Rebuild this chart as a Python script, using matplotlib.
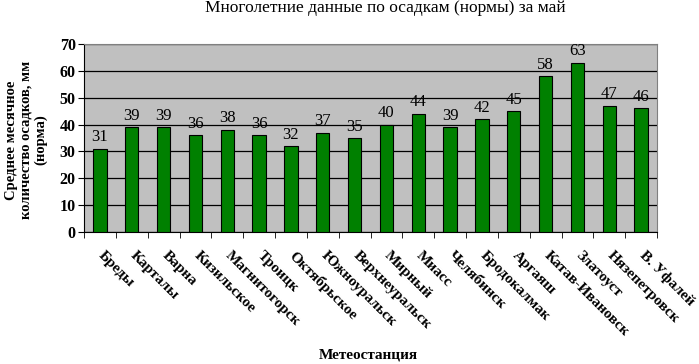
import matplotlib
matplotlib.use('Agg')
import matplotlib.pyplot as plt
import matplotlib.transforms as mtransforms
import numpy as np

plt.rcParams['font.family'] = ['Liberation Serif', 'DejaVu Serif']

stations = ['Бреды', 'Карталы', 'Варна', 'Кизильское', 'Магнитогорск', 'Троицк',
            'Октябрьское', 'Южноуральск', 'Верхнеуральск', 'Мирный', 'Миасс',
            'Челябинск', 'Бродокалмак', 'Аргаяш', 'Катав-Ивановск', 'Златоуст',
            'Нязепетровск', 'В. Уфалей']
precip = [31, 39, 39, 36, 38, 36, 32, 37, 35, 40, 44, 39, 42, 45, 58, 63, 47, 46]
yticks = [0, 10, 20, 30, 40, 50, 60, 70]

fig = plt.figure(figsize=(6.99, 3.64), dpi=100)
ax = fig.add_axes([84 / 699, 1 - 232 / 364, (657 - 84) / 699, (232 - 44) / 364])
ax.set_facecolor('#c0c0c0')

x = np.arange(len(stations))
ax.bar(x, precip, width=0.42, color='#008000', edgecolor='black', linewidth=0.8, zorder=3)
for xi, v in zip(x, precip):
    ax.text(xi, v + 1.3, str(v), ha='center', va='bottom', fontsize=12, zorder=4)

ax.set_xlim(-0.5, len(stations) - 0.5)
ax.set_ylim(0, 70)
ax.set_yticks(yticks)
ax.yaxis.grid(True, color='black', linewidth=0.9, zorder=0)
ax.set_axisbelow(True)
for lbl in ax.get_yticklabels():
    lbl.set_fontweight('bold')
ax.tick_params(axis='y', labelsize=11.5, length=4, direction='out', pad=2)

ax.set_xticks(x)
ax.set_xticklabels(stations, rotation=-45, ha='left', va='top',
                   rotation_mode='anchor', fontsize=11, fontweight='bold')
ax.tick_params(axis='x', which='major', length=0, pad=12)
shift = mtransforms.ScaledTranslation(5 / 100, 0, fig.dpi_scale_trans)
for lbl in ax.get_xticklabels():
    lbl.set_transform(lbl.get_transform() + shift)
ax.set_xticks(np.arange(-0.5, len(stations), 1), minor=True)
ax.tick_params(axis='x', which='minor', length=4, direction='out')

for s in ['top', 'right']:
    ax.spines[s].set_color('#808080')
ax.spines['left'].set_color('black')
ax.spines['bottom'].set_color('black')

fig.text(385 / 699, 1 - 8 / 364, 'Многолетние данные по осадкам (нормы) за май',
         ha='center', va='center', fontsize=12.5)
fig.text(368 / 699, 1 - 355 / 364, 'Метеостанция', ha='center', va='center',
         fontsize=11, fontweight='bold')
fig.text(26 / 699, 1 - 140 / 364, 'Среднее месячное\nколичество осадков, мм\n(норма)',
         ha='center', va='center', rotation=90, fontsize=10.5, fontweight='bold',
         linespacing=1.15)

fig.savefig('out.png', dpi=100)
